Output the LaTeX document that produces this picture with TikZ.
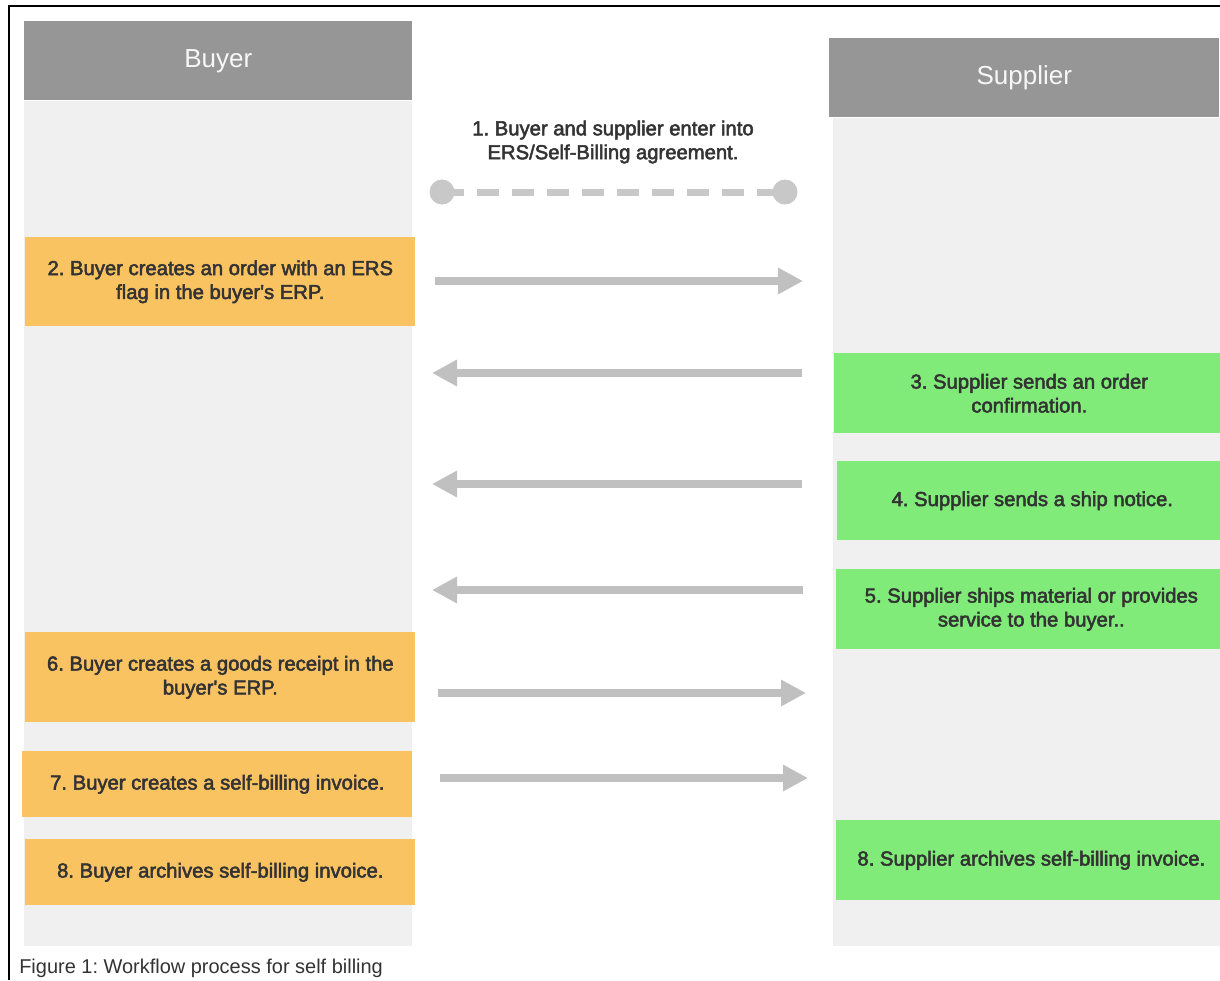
\documentclass[tikz,border=0pt]{standalone}
\usepackage{fontspec}
\setmainfont{Liberation Sans}
\newfontfamily\stepfont[FakeBold=2.5]{Liberation Sans}
\usetikzlibrary{arrows.meta, positioning}
\definecolor{headgray}{HTML}{969696}
\definecolor{lanegray}{HTML}{F0F0F0}
\definecolor{buyerorange}{HTML}{F9C362}
\definecolor{suppliergreen}{HTML}{80EB79}
\definecolor{arrowgray}{HTML}{C0C0C0}
\definecolor{dashgray}{HTML}{C8C8C8}
\definecolor{textgray}{HTML}{333333}
\tikzstyle{header} = [rectangle, anchor=north west, minimum height=1.975cm, inner sep=0pt, fill=headgray, text=white!97!black, font=\fontsize{18.5}{22}\selectfont]
\tikzstyle{lane} = [rectangle, inner sep=0pt, fill=lanegray]
\tikzstyle{buyerstep} = [rectangle, anchor=north west, minimum width=9.75cm, inner sep=0pt, align=center, fill=buyerorange, text=textgray, font=\stepfont\fontsize{14.4}{17}\selectfont]
\tikzstyle{supplierstep} = [rectangle, anchor=north west, minimum width=9.75cm, inner sep=0pt, align=center, fill=suppliergreen, text=textgray, font=\stepfont\fontsize{14.4}{17}\selectfont]
\tikzstyle{dot} = [circle, minimum size=0.625cm, inner sep=0pt, fill=dashgray]
\tikzstyle{arrow} = [line width=0.2cm, arrowgray, -{Triangle[length=0.625cm, width=0.625cm]}]

\begin{document}
\frenchspacing
\begin{tikzpicture}[x=0.025cm, y=-0.025cm]
    \useasboundingbox (0,0) rectangle (1220,980);
    \fill[white] (0,0) rectangle (1220,980);
    \draw[line width=0.05cm] (9,980) |- (1220,6);
    % swim lanes
    \node (buyerhead) [header, minimum width=9.7cm] at (24,21) {Buyer};
    \node (buyerlane) [lane, minimum width=9.7cm, minimum height=21.125cm, below=0pt of buyerhead] {};
    \node (supplierhead) [header, minimum width=9.75cm] at (829,38) {Supplier};
    \node (supplierlane) [lane, minimum width=9.7cm, minimum height=20.7cm, below=0pt of supplierhead, xshift=0.075cm] {};
    % step 1
    \node (agree) [text=textgray, align=center, font=\stepfont\fontsize{14.4}{17}\selectfont] at (613,142) {1. Buyer and supplier enter into\\ERS/Self-Billing agreement.};
    \node (dotl) [dot] at (442,192) {};
    \node (dotr) [dot] at (785,192) {};
    \draw [dashgray, line width=0.175cm, dash pattern=on 0.55cm off 0.325cm] (dotl.center) -- (dotr.center);
    % buyer steps
    \node (b2) [buyerstep, minimum height=2.225cm] at (25,237) {2. Buyer creates an order with an ERS\\flag in the buyer's ERP.};
    \node (b6) [buyerstep, minimum height=2.25cm] at (25,632) {6. Buyer creates a goods receipt in the\\buyer's ERP.};
    \node (b7) [buyerstep, minimum height=1.65cm] at (22,751) {7. Buyer creates a self-billing invoice.};
    \node (b8) [buyerstep, minimum height=1.65cm] at (25,839) {8. Buyer archives self-billing invoice.};
    % supplier steps
    \node (s3) [supplierstep, minimum height=2cm] at (834,353) {3. Supplier sends an order\\confirmation.};
    \node (s4) [supplierstep, minimum height=1.975cm] at (837,461) {4. Supplier sends a ship notice.};
    \node (s5) [supplierstep, minimum height=2cm] at (836,569) {5. Supplier ships material or provides\\service to the buyer..};
    \node (s8) [supplierstep, minimum height=2cm] at (836,820) {8. Supplier archives self-billing invoice.};
    % messages
    \coordinate (a2l) at (435,281);  \coordinate (a2r) at (803,281);
    \coordinate (a3l) at (432,373);  \coordinate (a3r) at (802,373);
    \coordinate (a4l) at (432,484);  \coordinate (a4r) at (802,484);
    \coordinate (a5l) at (432,590);  \coordinate (a5r) at (803,590);
    \coordinate (a6l) at (438,693);  \coordinate (a6r) at (806,693);
    \coordinate (a7l) at (440,778);  \coordinate (a7r) at (808,778);
    \draw [arrow] (a2l) -- (a2r);
    \draw [arrow] (a3r) -- (a3l);
    \draw [arrow] (a4r) -- (a4l);
    \draw [arrow] (a5r) -- (a5l);
    \draw [arrow] (a6l) -- (a6r);
    \draw [arrow] (a7l) -- (a7r);
    % caption
    \node (caption) [anchor=west, inner sep=0pt, text=textgray, font=\fontsize{14.2}{17}\selectfont] at (19,968) {Figure 1: Workflow process for self billing};
\end{tikzpicture}
\end{document}
